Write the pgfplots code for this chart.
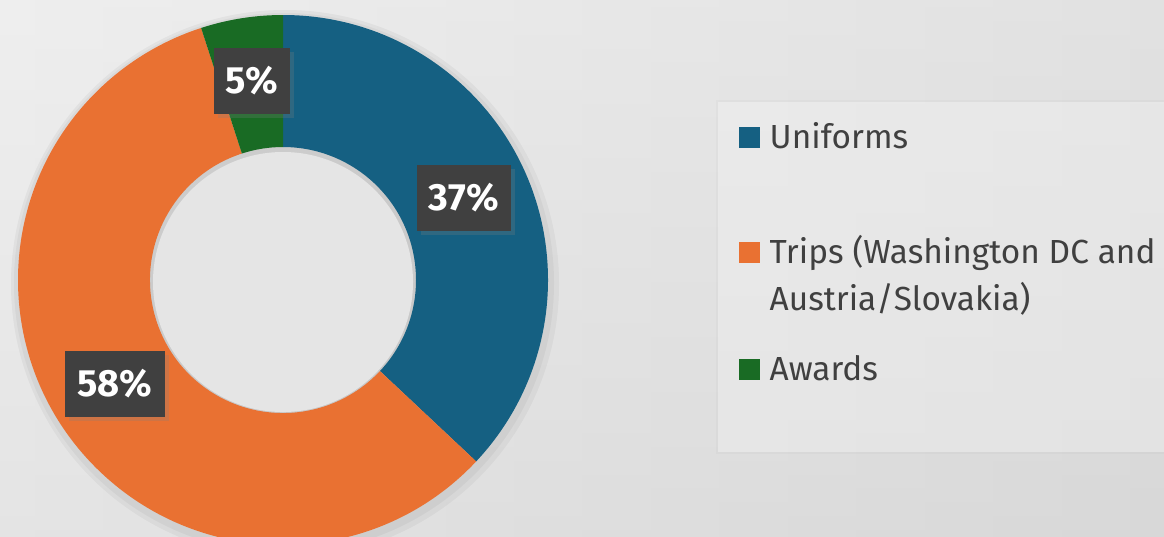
\documentclass[border=0pt]{standalone}
\usepackage{fontspec}
\setmainfont{Fira Sans}
\usepackage{pgfplots}
\pgfplotsset{compat=1.18}
\usepackage{pgfplotstable}
\usetikzlibrary{shadows}

\definecolor{uniblue}{HTML}{156082}
\definecolor{triporange}{HTML}{E97132}
\definecolor{awardgreen}{HTML}{196B24}
\definecolor{labelbox}{HTML}{404040}
\definecolor{legendtext}{HTML}{404040}
\definecolor{bgA}{HTML}{E9E9E9}
\definecolor{bgB}{HTML}{D8D8D8}

% share of the budget, in percent
\pgfplotstableread{
label value
Uniforms 37
Trips 58
Awards 5
}\donutdata

% ring sector around the centre (283,256): colour, start angle, end angle
\newcommand\ringsector[3]{%
  \fill[#1] ([shift={(#2:2.65cm)}]axis cs:283,256)
    arc[start angle=#2, end angle=#3, radius=2.65cm]
    -- ([shift={(#3:1.33cm)}]axis cs:283,256)
    arc[start angle=#3, end angle=#2, radius=1.33cm] -- cycle;}

\tikzset{pct/.style={fill=labelbox, text=white, inner xsep=0.12cm,
    minimum height=0.66cm, font=\bfseries\fontsize{10.8}{12}\selectfont,
    drop shadow={shadow xshift=0.04cm, shadow yshift=-0.04cm, opacity=0.25}},
  leg/.style={anchor=base west, text=legendtext, inner sep=0pt,
    font=\fontsize{9.5}{11}\selectfont}}

\begin{document}
\begin{tikzpicture}
\pgfplotstablegetelem{0}{value}\of\donutdata \pgfmathtruncatemacro\vU{\pgfplotsretval}
\pgfplotstablegetelem{1}{value}\of\donutdata \pgfmathtruncatemacro\vT{\pgfplotsretval}
\pgfplotstablegetelem{2}{value}\of\donutdata \pgfmathtruncatemacro\vA{\pgfplotsretval}
\pgfmathsetmacro\aU{90-3.6*\vU}
\pgfmathsetmacro\aT{\aU-3.6*\vT}
\pgfmathsetmacro\aA{\aT-3.6*\vA}
\begin{axis}[
    scale only axis,
    width=11.64cm, height=5.36cm,
    xmin=0, xmax=1164, ymin=0, ymax=536,
    hide axis,
    clip=true,
]
% background
\shade[left color=bgA, right color=bgB] (axis cs:0,0) rectangle (axis cs:1164,536);
\shade[top color=white, bottom color=bgB, opacity=0.25] (axis cs:0,0) rectangle (axis cs:1164,536);

% soft shadow round the ring
\fill[black, opacity=0.04] (axis cs:285,252) circle[radius=2.74cm];
\fill[black, opacity=0.04] (axis cs:284,253) circle[radius=2.70cm];

\ringsector{uniblue}{90}{\aU}
\ringsector{triporange}{\aU}{\aT}
\ringsector{awardgreen}{\aT}{\aA}

% shade at the edge of the hole
\fill[black, opacity=0.04] (axis cs:283,256) circle[radius=1.33cm];
\fill[bgA!80!bgB] (axis cs:283,254) circle[radius=1.30cm];

% data labels
\node[pct] at (axis cs:252,455) {\vA\%};
\node[pct] at (axis cs:464,338) {\vU\%};
\node[pct] at (axis cs:115,152) {\vT\%};

% legend
\fill[black, opacity=0.02] (axis cs:716,82) rectangle (axis cs:1170,436);
\fill[white, opacity=0.35] (axis cs:718,84) rectangle (axis cs:1170,434);
\fill[uniblue] (axis cs:739,388) rectangle (axis cs:760,409);
\node[leg] at (axis cs:769,388) {Uniforms};
\fill[triporange] (axis cs:739,273) rectangle (axis cs:760,294);
\node[leg] at (axis cs:769,273) {Trips (Washington DC and};
\node[leg] at (axis cs:769,226) {Austria/Slovakia)};
\fill[awardgreen] (axis cs:739,156) rectangle (axis cs:760,177);
\node[leg] at (axis cs:769,156) {Awards};
\end{axis}
\pgfresetboundingbox
\path[use as bounding box] (current axis.south west) rectangle (current axis.north east);
\end{tikzpicture}
\end{document}
